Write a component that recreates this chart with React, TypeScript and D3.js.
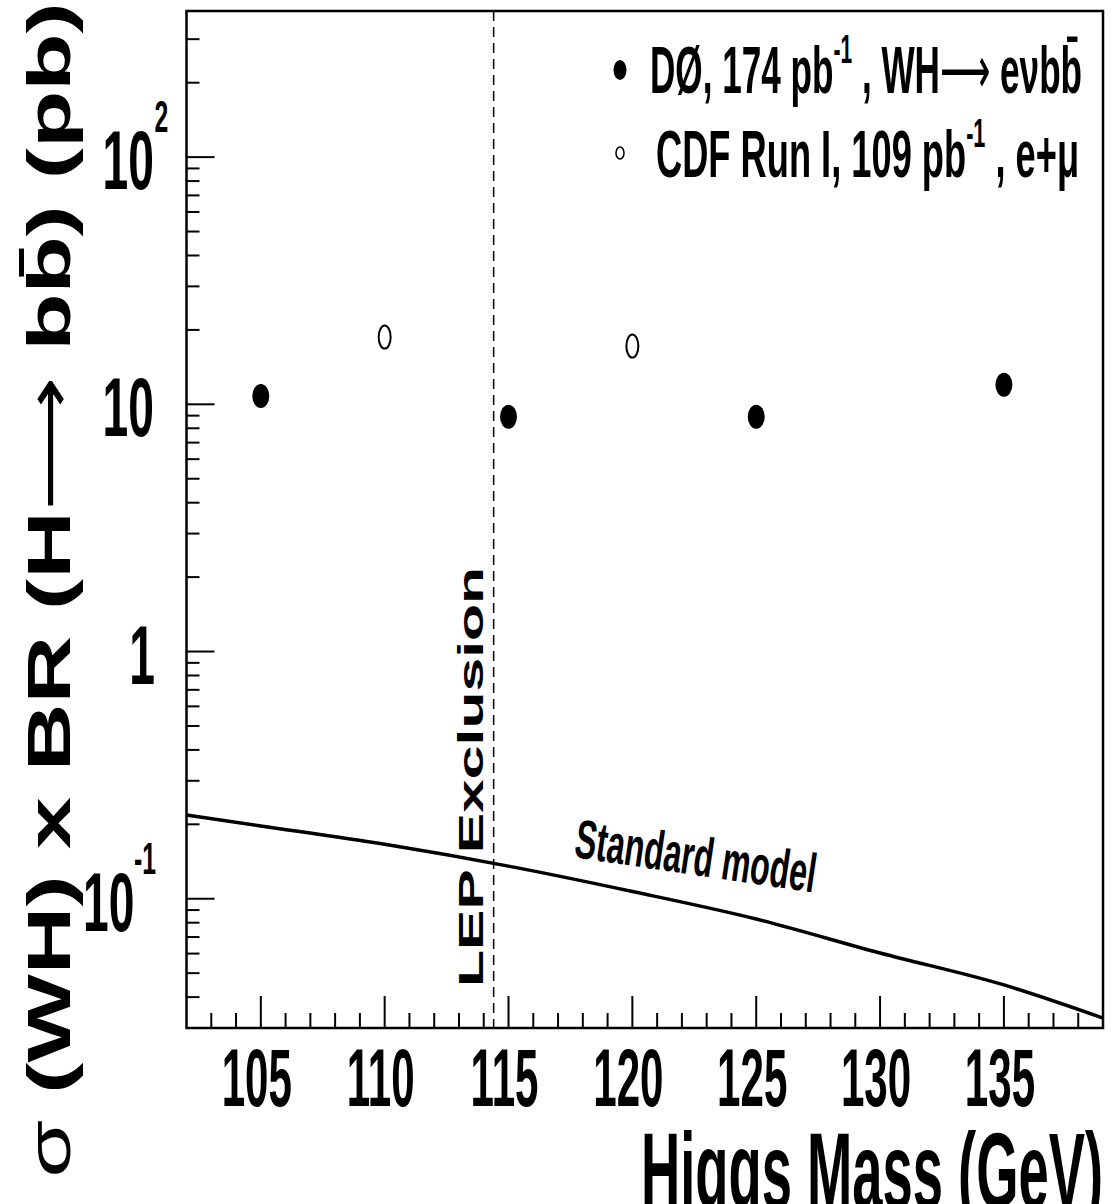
import React, { useLayoutEffect, useRef, useState } from 'react';
import * as d3 from 'd3';

// ---------- data ----------
const massD0 = [105, 115, 125, 135];
const xsD0 = [10.8, 8.9, 8.9, 12.0];
const massCDF = [110, 120];
const xsCDF = [18.7, 17.2];
const smMass = [102, 105, 110, 115, 120, 125, 130, 135, 139];
const smXs = [0.218, 0.197, 0.166, 0.1355, 0.107, 0.0828, 0.0603, 0.0448, 0.0329];
const lepLimit = 114.4;
const xMajorTicks = [105, 110, 115, 120, 125, 130, 135];
const xTickLabels = ['105', '110', '115', '120', '125', '130', '135'];
const yMajorTicks = [100, 10, 1, 0.1];
const yTickMain = ['10', '10', '1', '10'];
const yTickSup = ['2', '', '', '-1'];

// ---------- layout ----------
const W = 1120, H = 1204;
const L = 186.5, R = 1103, T = 11, B = 1028;
const FONT = "'Liberation Sans', Arial, Helvetica, sans-serif";
const ARROW_FONT = "'DejaVu Sans', sans-serif";
const SX = 0.55;

const x = d3.scaleLinear().domain([102, 139]).range([L, R]);
const y = d3.scaleLog().domain([0.03, 390]).range([B, T]);

function FitText({ x, y, width, anchor = 'start', rotate = 0, size, weight = 'bold', children }: any) {
  const ref = useRef<SVGTextElement>(null);
  const [s, setS] = useState(0.55);
  useLayoutEffect(() => {
    if (ref.current) {
      const w = ref.current.getBBox().width;
      if (w > 0) setS(width / w);
    }
  }, [width]);
  return (
    <g transform={`translate(${x},${y}) rotate(${rotate}) scale(${s},1)`}>
      <text ref={ref} textAnchor={anchor} fontSize={size} fontWeight={weight} fontFamily={FONT} fill="#000">
        {children}
      </text>
    </g>
  );
}

function SText({ x, y, anchor = 'start', size, sx = SX, children }: any) {
  return (
    <g transform={`translate(${x},${y}) scale(${sx},1)`}>
      <text textAnchor={anchor} fontSize={size} fontWeight="bold" fontFamily={FONT} fill="#000">
        {children}
      </text>
    </g>
  );
}

export default function App() {
  const xMinor = d3.range(103, 139).filter((v) => v % 5 !== 0);
  const yMinor: number[] = [];
  for (let e = -2; e <= 2; e++) {
    for (let k = 2; k <= 9; k++) {
      const v = k * Math.pow(10, e);
      if (v > 0.03 && v < 390) yMinor.push(v);
    }
  }
  const smLine = d3
    .line<number>()
    .x((_, i) => x(smMass[i]))
    .y((d) => y(d))
    .curve(d3.curveMonotoneX);

  const mainRight = [154, 154, 155, 134.5];
  const supLeft = [154.5, 0, 0, 134];

  return (
    <svg width={W} height={H} style={{ position: 'absolute', left: 0, top: 0, background: '#fff' }}>
      <rect x={0} y={0} width={W} height={H} fill="#fff" />
      {/* ticks x */}
      {xMinor.map((v) => (
        <line key={'xm' + v} x1={x(v)} x2={x(v)} y1={B} y2={B - 15} stroke="#000" strokeWidth={2} />
      ))}
      {xMajorTicks.map((v) => (
        <line key={'xM' + v} x1={x(v)} x2={x(v)} y1={B} y2={B - 32} stroke="#000" strokeWidth={2} />
      ))}
      {/* ticks y */}
      {yMinor.map((v) => (
        <line key={'ym' + v} x1={L} x2={L + 13} y1={y(v)} y2={y(v)} stroke="#000" strokeWidth={2} />
      ))}
      {yMajorTicks.map((v) => (
        <line key={'yM' + v} x1={L} x2={L + 28} y1={y(v)} y2={y(v)} stroke="#000" strokeWidth={2} />
      ))}
      {/* LEP line */}
      <line x1={x(lepLimit)} x2={x(lepLimit)} y1={T} y2={B} stroke="#000" strokeWidth={1.5} strokeDasharray="10 6" />
      {/* SM curve */}
      <path d={smLine(smXs) || ''} fill="none" stroke="#000" strokeWidth={3.5} />
      {/* frame */}
      <rect x={L} y={T} width={R - L} height={B - T} fill="none" stroke="#000" strokeWidth={2.5} />
      {/* points */}
      {massD0.map((m, i) => (
        <ellipse key={'d0' + m} cx={x(m)} cy={y(xsD0[i])} rx={8.5} ry={12} fill="#000" />
      ))}
      {massCDF.map((m, i) => (
        <ellipse key={'cdf' + m} cx={x(m)} cy={y(xsCDF[i])} rx={6} ry={11.5} fill="#fff" stroke="#000" strokeWidth={2} />
      ))}
      {/* x tick labels */}
      {xMajorTicks.map((v, i) => (
        <SText key={'xl' + v} x={x(v) - 4} y={1106} anchor="middle" size={81} sx={0.52}>
          {xTickLabels[i]}
        </SText>
      ))}
      {/* y tick labels */}
      {yMajorTicks.map((v, i) => (
        <g key={'yl' + v}>
          <SText x={mainRight[i]} y={y(v) + 32} anchor="end" size={84}>
            {yTickMain[i]}
          </SText>
          {yTickSup[i] && (
            <SText x={supLeft[i]} y={y(v) - 25} anchor="start" size={45}>
              {yTickSup[i]}
            </SText>
          )}
        </g>
      ))}
      {/* legend */}
      <ellipse cx={620} cy={70} rx={6.5} ry={10} fill="#000" />
      <ellipse cx={620} cy={153} rx={4} ry={6} fill="#fff" stroke="#000" strokeWidth={1.5} />
      <FitText x={650} y={93} width={432} size={67}>
        DØ, 174 pb
        <tspan dy={-30} fontSize={40}>-1</tspan>
        <tspan dy={30}> , WH</tspan>
        <tspan fontFamily={ARROW_FONT} fontWeight="normal">⟶</tspan>
        <tspan> eνbb̄</tspan>
      </FitText>
      <FitText x={656} y={177} width={423} size={67}>
        CDF Run I, 109 pb
        <tspan dy={-30} fontSize={40}>-1</tspan>
        <tspan dy={30}> , e+μ</tspan>
      </FitText>
      {/* annotations */}
      <FitText x={483} y={987} width={420} size={35} rotate={-90}>
        LEP Exclusion
      </FitText>
      <FitText x={573} y={857} width={243} size={55} rotate={8.4}>
        Standard model
      </FitText>
      {/* axis titles */}
      <FitText x={70} y={590} width={1175} size={62} rotate={-90} anchor="middle">
        <tspan fontWeight="normal">σ</tspan>
        <tspan> (WH) x BR (H</tspan>
        <tspan fontFamily={ARROW_FONT} fontWeight="normal">⟶</tspan>
        <tspan> bb̄) (pb)</tspan>
      </FitText>
      <FitText x={1103} y={1208} width={462} size={108} anchor="end">
        Higgs Mass (GeV)
      </FitText>
    </svg>
  );
}
